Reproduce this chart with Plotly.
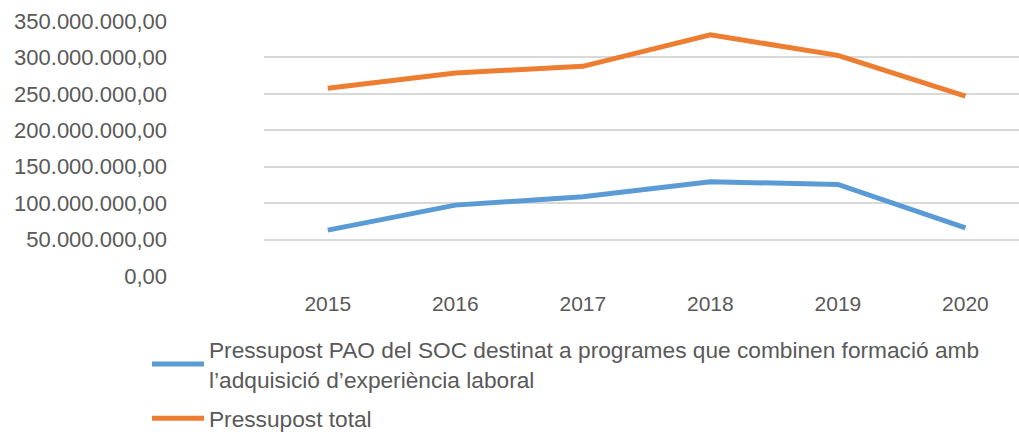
import plotly.graph_objects as go

years = ["2015", "2016", "2017", "2018", "2019", "2020"]
pao_soc = [63_000_000, 97_300_000, 108_700_000, 129_300_000, 125_700_000, 66_200_000]
total = [257_800_000, 278_700_000, 287_800_000, 331_000_000, 302_900_000, 247_000_000]

tick_vals = [0, 50_000_000, 100_000_000, 150_000_000, 200_000_000,
             250_000_000, 300_000_000, 350_000_000]
tick_text = ["0,00", "50.000.000,00", "100.000.000,00", "150.000.000,00",
             "200.000.000,00", "250.000.000,00", "300.000.000,00", "350.000.000,00"]

name_pao = ("Pressupost PAO del SOC destinat a programes que combinen formació amb"
            "<br>l’adquisició d’experiència laboral")
name_total = "Pressupost total"

BLUE = "#5B9BD5"
ORANGE = "#ED7D31"
TEXT = "#595959"

fig = go.Figure()
fig.add_trace(go.Scatter(x=years, y=pao_soc, mode="lines", name=name_pao,
                         legendgroup="pao", line=dict(color=BLUE, width=5)))
fig.add_trace(go.Scatter(x=years, y=total, mode="lines", name=name_total,
                         legendgroup="total", line=dict(color=ORANGE, width=5)))

fig.update_layout(
    width=1019, height=432,
    margin=dict(l=264, r=0, t=21, b=156, autoexpand=False),
    paper_bgcolor="white", plot_bgcolor="white",
    font=dict(family="Liberation Sans, Arial, sans-serif", color=TEXT, size=20),
    showlegend=True,
    legend=dict(
        orientation="v", x=-0.155, xanchor="left", y=-0.204, yanchor="top",
        font=dict(size=22.7, color=TEXT), itemwidth=52, tracegroupgap=7,
        bgcolor="rgba(0,0,0,0)",
    ),
    xaxis=dict(
        type="category", range=[-0.5, 5.42], showgrid=False, showline=False,
        ticks="", tickfont=dict(size=21, color=TEXT), fixedrange=True,
        ticklabelstandoff=13,
    ),
    yaxis=dict(
        range=[0, 350_000_000], tickvals=tick_vals, ticktext=tick_text,
        showgrid=True, gridcolor="#D9D9D9", gridwidth=1.5, zeroline=False,
        showline=False, ticks="", ticklabelstandoff=96,
        tickfont=dict(size=22, color=TEXT), fixedrange=True,
    ),
)

fig.write_html("out.html")
